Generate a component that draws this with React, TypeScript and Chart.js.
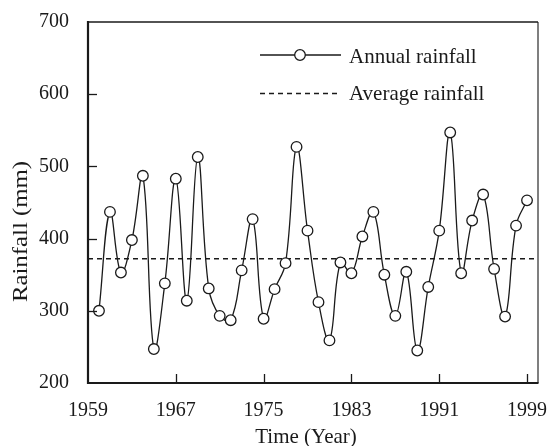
import React, { useEffect, useRef } from 'react';
import { Chart, registerables } from 'chart.js';

Chart.register(...registerables);

const YEARS = [
  1960, 1961, 1962, 1963, 1964, 1965, 1966, 1967, 1968, 1969,
  1970, 1971, 1972, 1973, 1974, 1975, 1976, 1977, 1978, 1979,
  1980, 1981, 1982, 1983, 1984, 1985, 1986, 1987, 1988, 1989,
  1990, 1991, 1992, 1993, 1994, 1995, 1996, 1997, 1998, 1999,
];
const RAINFALL = [
  300, 437, 353, 398, 487, 247, 338, 483, 314, 513,
  331, 293, 287, 356, 427, 289, 330, 366, 527, 411,
  312, 259, 367, 352, 403, 437, 350, 293, 354, 245,
  333, 411, 547, 352, 425, 461, 358, 292, 418, 453,
];
const AVERAGE_RAINFALL = 372;
const X_RANGE = [1959, 2000];
const X_TICKS = [1959, 1967, 1975, 1983, 1991, 1999];
const Y_TICKS = [200, 300, 400, 500, 600, 700];
const SERIES_LABELS = ['Annual rainfall', 'Average rainfall'];
const X_TITLE = 'Time (Year)';
const Y_TITLE = 'Rainfall (mm)';

const FONT_FAMILY = '"Liberation Serif", "Times New Roman", serif';
const INK = '#1a1a1a';

const framePlugin = {
  id: 'framePlugin',
  afterDraw(chart: any) {
    const { ctx, chartArea, scales } = chart;
    const { left, top, right, bottom } = chartArea;
    const x = scales.x;
    const y = scales.y;
    ctx.save();
    ctx.strokeStyle = INK;
    ctx.lineCap = 'butt';
    // inward tick marks
    ctx.lineWidth = 1.3;
    X_TICKS.forEach((v) => {
      const px = Math.round(x.getPixelForValue(v)) + 0.5;
      if (px > left + 2 && px < right - 2) {
        ctx.beginPath();
        ctx.moveTo(px, bottom);
        ctx.lineTo(px, bottom - 9);
        ctx.stroke();
      }
    });
    Y_TICKS.forEach((v) => {
      const py = Math.round(y.getPixelForValue(v)) + 0.5;
      if (py > top + 2 && py < bottom - 2) {
        ctx.beginPath();
        ctx.moveTo(left, py);
        ctx.lineTo(left + 9, py);
        ctx.stroke();
      }
    });
    // frame
    ctx.strokeStyle = '#555';
    ctx.lineWidth = 1.5;
    ctx.beginPath();
    ctx.moveTo(right, top);
    ctx.lineTo(right, bottom);
    ctx.stroke();
    ctx.strokeStyle = INK;
    ctx.lineWidth = 1.6;
    ctx.beginPath();
    ctx.moveTo(left, top);
    ctx.lineTo(right, top);
    ctx.stroke();
    ctx.lineWidth = 2.2;
    ctx.beginPath();
    ctx.moveTo(left, top - 1);
    ctx.lineTo(left, bottom);
    ctx.lineTo(right + 0.5, bottom);
    ctx.stroke();

    // legend inside the plot
    const ds0 = chart.data.datasets[0];
    const ds1 = chart.data.datasets[1];
    const x0 = left + 172;
    const x1 = left + 253;
    const tx = left + 261;
    const r0 = top + 33;
    const r1 = top + 71.5;
    ctx.lineWidth = ds0.borderWidth;
    ctx.strokeStyle = ds0.borderColor;
    ctx.beginPath();
    ctx.moveTo(x0, r0);
    ctx.lineTo(x1, r0);
    ctx.stroke();
    ctx.beginPath();
    ctx.arc(left + 212, r0, ds0.pointRadius, 0, Math.PI * 2);
    ctx.fillStyle = ds0.pointBackgroundColor;
    ctx.fill();
    ctx.lineWidth = ds0.pointBorderWidth;
    ctx.stroke();
    ctx.setLineDash(ds1.borderDash);
    ctx.lineWidth = ds1.borderWidth;
    ctx.strokeStyle = ds1.borderColor;
    ctx.beginPath();
    ctx.moveTo(x0, r1);
    ctx.lineTo(x1, r1);
    ctx.stroke();
    ctx.setLineDash([]);
    ctx.fillStyle = INK;
    ctx.font = `21px ${FONT_FAMILY}`;
    ctx.textAlign = 'left';
    ctx.textBaseline = 'middle';
    ctx.fillText(SERIES_LABELS[0], tx, r0 + 2);
    ctx.fillText(SERIES_LABELS[1], tx, r1 + 1);

    // axis titles
    ctx.textAlign = 'center';
    ctx.textBaseline = 'alphabetic';
    ctx.fillText(X_TITLE, (left + right) / 2 - 7, 443);
    ctx.save();
    ctx.translate(27, (top + bottom) / 2 + 29);
    ctx.rotate(-Math.PI / 2);
    ctx.scale(1.24, 1);
    ctx.font = `20px ${FONT_FAMILY}`;
    ctx.fillText(Y_TITLE, 0, 0);
    ctx.restore();
    ctx.restore();
  },
};

export default function App() {
  const canvasRef = useRef<HTMLCanvasElement | null>(null);

  useEffect(() => {
    document.body.style.margin = '0';
    const canvas = canvasRef.current;
    if (!canvas) return;
    const tickFont = { family: FONT_FAMILY, size: 20 };
    const chart = new Chart(canvas, {
      type: 'line',
      data: {
        datasets: [
          {
            label: SERIES_LABELS[0],
            data: YEARS.map((yr, i) => ({ x: yr, y: RAINFALL[i] })),
            borderColor: INK,
            borderWidth: 1.3,
            tension: 0.4,
            pointRadius: 5.3,
            pointBackgroundColor: '#ffffff',
            pointBorderColor: INK,
            pointBorderWidth: 1.3,
            fill: false,
          },
          {
            label: SERIES_LABELS[1],
            data: X_RANGE.map((yr) => ({ x: yr, y: AVERAGE_RAINFALL })),
            borderColor: INK,
            borderWidth: 1.6,
            borderDash: [5, 4],
            pointRadius: 0,
            tension: 0,
            fill: false,
          },
        ],
      },
      options: {
        responsive: false,
        animation: false,
        devicePixelRatio: 1,
        layout: { padding: { top: 22, right: 12, left: 0, bottom: 0 } },
        plugins: {
          legend: { display: false },
          tooltip: { enabled: false },
        },
        scales: {
          x: {
            type: 'linear',
            min: X_RANGE[0],
            max: X_RANGE[1],
            afterBuildTicks: (scale: any) => {
              scale.ticks = X_TICKS.map((v) => ({ value: v }));
            },
            afterFit: (scale: any) => {
              scale.height = 63;
              scale.paddingLeft = 0;
              scale.paddingRight = 0;
            },
            grid: { display: false },
            border: { display: false },
            ticks: {
              font: tickFont,
              color: INK,
              padding: 8,
              maxRotation: 0,
              autoSkip: false,
              callback: (v: any) => String(v),
            },
            title: { display: false, text: X_TITLE },
          },
          y: {
            type: 'linear',
            min: Y_TICKS[0],
            max: Y_TICKS[Y_TICKS.length - 1],
            afterBuildTicks: (scale: any) => {
              scale.ticks = Y_TICKS.map((v) => ({ value: v }));
            },
            afterFit: (scale: any) => {
              scale.width = 88;
              scale.paddingTop = 0;
              scale.paddingBottom = 0;
            },
            grid: { display: false },
            border: { display: false },
            ticks: {
              font: tickFont,
              color: INK,
              padding: 11,
              callback: (v: any) => String(v),
            },
            title: { display: false, text: Y_TITLE },
          },
        },
      },
      plugins: [framePlugin],
    } as any);
    return () => chart.destroy();
  }, []);

  return (
    <div style={{ position: 'absolute', left: 0, top: 0, width: 550, height: 446 }}>
      <canvas ref={canvasRef} width={550} height={446} />
    </div>
  );
}
